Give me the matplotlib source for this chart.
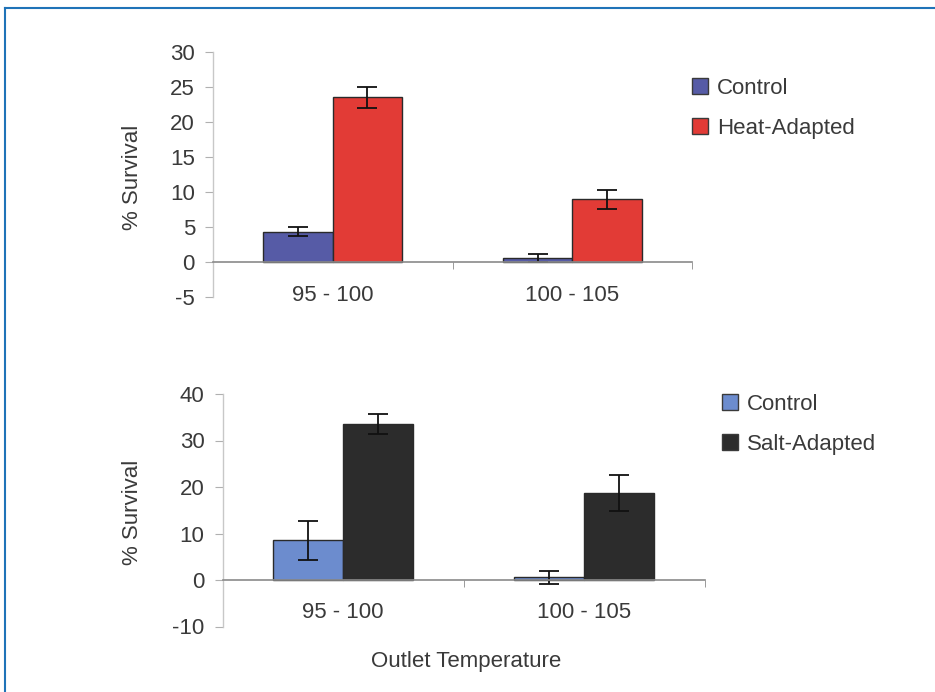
import matplotlib.pyplot as plt
import numpy as np
from matplotlib.lines import Line2D

plt.rcParams['font.family'] = ['Liberation Sans', 'DejaVu Sans']

categories = ['95 - 100', '100 - 105']

# top panel: heat adaptation
heat_control = [4.4, 0.6]
heat_control_err = [0.6, 0.6]
heat_adapted = [23.6, 9.0]
heat_adapted_err = [1.5, 1.4]

# bottom panel: salt adaptation
salt_control = [8.5, 0.6]
salt_control_err = [4.2, 1.4]
salt_adapted = [33.5, 18.7]
salt_adapted_err = [2.2, 3.9]

W, H = 935, 692
fig = plt.figure(figsize=(W / 100, H / 100), dpi=100)
fig.patch.set_facecolor('white')

txt = '#3a3a3a'
axis_grey = '#8a8a8a'
fs = 16
bw = 0.29


def panel(rect, s1, e1, s2, e2, c1, c2, ylim, yticks, labels, leg_anchor):
    ax = fig.add_axes(rect)
    x = np.arange(len(categories))
    ax.bar(x - bw / 2, s1, bw, color=c1, edgecolor='#2a2a2a', linewidth=1.0,
           yerr=e1, error_kw=dict(ecolor='#111111', elinewidth=1.3, capsize=7, capthick=1.3),
           label=labels[0], zorder=3)
    ax.bar(x + bw / 2, s2, bw, color=c2, edgecolor='#2a2a2a', linewidth=1.0,
           yerr=e2, error_kw=dict(ecolor='#111111', elinewidth=1.3, capsize=7, capthick=1.3),
           label=labels[1], zorder=3)
    ax.set_xlim(-0.5, 1.5)
    ax.set_ylim(*ylim)
    ax.set_yticks(yticks)
    ax.set_yticklabels([str(t) for t in yticks])
    for s in ['top', 'right']:
        ax.spines[s].set_visible(False)
    ax.spines['left'].set_color('#c8c8c8')
    ax.spines['left'].set_linewidth(1.0)
    ax.spines['bottom'].set_position(('data', 0))
    ax.spines['bottom'].set_color(axis_grey)
    ax.spines['bottom'].set_linewidth(1.2)
    ax.spines['bottom'].set_zorder(4)
    ax.set_xticks(x)
    ax.set_xticklabels(categories)
    ax.set_xticks([0.5, 1.5], minor=True)
    ax.tick_params(axis='x', which='major', length=0, pad=16, labelsize=fs, labelcolor=txt)
    ax.tick_params(axis='x', which='minor', length=5, direction='out', color=axis_grey)
    ax.tick_params(axis='y', length=6, color='#b0b0b0', pad=7, labelsize=fs, labelcolor=txt)
    ax.set_facecolor('none')
    handles = [Line2D([], [], marker='s', linestyle='none', markersize=11,
                      markerfacecolor=c, markeredgecolor='#3a3a3a') for c in (c1, c2)]
    fig.legend(handles, labels, loc='upper left', bbox_to_anchor=leg_anchor,
               frameon=False, fontsize=fs, handletextpad=0.25, labelspacing=0.85,
               handlelength=1.0, borderaxespad=0, labelcolor=txt)
    return ax


panel([213 / W, 1 - 297.5 / H, 479 / W, 245 / H],
      heat_control, heat_control_err, heat_adapted, heat_adapted_err,
      '#565ba6', '#e23b36', (-5, 30), [-5, 0, 5, 10, 15, 20, 25, 30],
      ['Control', 'Heat-Adapted'], (680 / W, 1 - 69 / H))

panel([222.5 / W, 1 - 626.5 / H, 482 / W, 232.5 / H],
      salt_control, salt_control_err, salt_adapted, salt_adapted_err,
      '#6c8cce', '#2c2c2c', (-10, 40), [-10, 0, 10, 20, 30, 40],
      ['Control', 'Salt-Adapted'], (710 / W, 1 - 385 / H))

fig.text(132 / W, 1 - 177 / H, '% Survival', rotation=90, ha='center', va='center',
         fontsize=fs, color=txt)
fig.text(133 / W, 1 - 512 / H, '% Survival', rotation=90, ha='center', va='center',
         fontsize=fs, color=txt)
fig.text(466 / W, 1 - 662 / H, 'Outlet Temperature', ha='center', va='center',
         fontsize=fs, color=txt)

# blue frame around the figure (top and left edges visible)
frame = '#1f73b8'
fig.add_artist(Line2D([4.5 / W, 4.5 / W], [0, 1 - 8 / H], color=frame, lw=1.5))
fig.add_artist(Line2D([4.5 / W, 1], [1 - 8 / H, 1 - 8 / H], color=frame, lw=1.5))

fig.savefig('out.png', dpi=100, facecolor='white')
